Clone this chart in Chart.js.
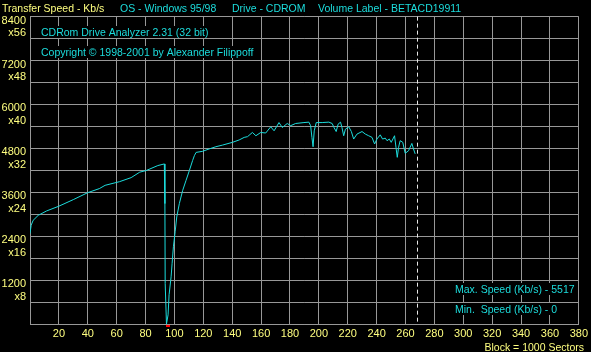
<!DOCTYPE html>
<html>
<head>
<meta charset="utf-8">
<script src="https://cdn.jsdelivr.net/npm/chart.js@4/dist/chart.umd.min.js"></script>
<style>
html,body{margin:0;padding:0;background:#000;}
#wrap{width:591px;height:352px;position:relative;}
canvas{display:block;}
</style>
</head>
<body>
<div id="wrap"><canvas id="c" width="591" height="352"></canvas></div>
<script>
// ---- data (block number in 1000-sector units, transfer speed Kb/s) ----
const blocks = [0,0.8,2.2,3.4,5.7,11.5,20,30,40,48,52,62,70,76,80.5,88.5,93,93.4,93.6,94.5,95.6,96.3,97.7,98.4,99.3,100.5,101.6,103.4,105.7,108,110.3,112.6,113.8,115,119.5,124.1,128.7,133.3,140.2,144.8,148.3,150.6,154,156.4,159.8,163.2,166.7,169,172.4,174.7,178.1,180.5,183.9,189.7,193.1,194.3,195.2,196,196.8,198.2,202.3,206.9,209.2,210.5,212,213.3,215,216,217.2,218.4,220.7,222.5,224.1,226.4,229.9,232.2,234.5,236.8,238.6,240.2,242.5,244.1,246,247.2,248.8,250.1,252.4,253.4,254.3,255.2,256.3,258.1,259.8,262.1,264.4,265.5,266.7];
const speeds = [2470,2700,2835,2880,2970,3090,3220,3400,3590,3700,3790,3890,4000,4150,4195,4330,4375,3290,1110,0,250,800,1290,1660,2110,2520,2925,3290,3650,3920,4190,4470,4600,4690,4720,4785,4845,4890,4965,5030,5100,5120,5235,5145,5235,5220,5390,5280,5505,5370,5480,5420,5480,5505,5517,5420,5100,4845,5280,5505,5505,5517,5480,5370,5260,5460,5517,5370,5145,5325,5390,5260,5055,5190,5260,5190,5145,5100,4920,5055,5170,5055,5080,5010,5055,4965,5145,4830,4555,4830,5010,4965,4665,4735,4935,4785,4650];
const yTickValues = [1200,2400,3600,4800,6000,7200,8400];
const yTickMults  = ['x8','x16','x24','x32','x40','x48','x56'];
const xTickValues = [20,40,60,80,100,120,140,160,180,200,220,240,260,280,300,320,340,360,380];
const markerBlock = 268;        // dashed end-of-disc marker
const errorRange = [94, 97];    // red error mark under the axis

const headerTexts = [
  {t:'Transfer Speed - Kb/s', x:2, y:11.5, c:'yellow'},
  {t:'OS - Windows 95/98', x:120, y:11.5, c:'cyan'},
  {t:'Drive - CDROM', x:232, y:11.5, c:'cyan'},
  {t:'Volume Label - BETACD19911', x:318, y:11.5, c:'cyan'}
];
const infoTexts = [
  {t:'CDRom Drive Analyzer 2.31 (32 bit)', x:41, y:35.5},
  {t:'Copyright \u00A9 1998-2001 by Alexander Filippoff', x:41, y:55.5},
  {t:'Max. Speed (Kb/s) - 5517', x:455, y:292.5},
  {t:'Min.  Speed (Kb/s) - 0', x:455, y:312.5}
];
const footerText = 'Block = 1000 Sectors';

const YEL = '#ffff80', CYAN = '#1cdcdc', GRID = '#989898';
const FAM = '"Liberation Sans", Arial, sans-serif';
const FONT = '10.5px ' + FAM;

const points = blocks.map((b,i)=>({x:b, y:speeds[i]}));

const decor = {
  id:'decor',
  beforeDraw(chart){
    const ctx = chart.ctx;
    ctx.save();
    ctx.fillStyle = '#000';
    ctx.fillRect(0,0,chart.width,chart.height);
    ctx.restore();
  },
  afterDraw(chart){
    const ctx = chart.ctx, xs = chart.scales.x, ys = chart.scales.y;
    ctx.save();
    const mx = Math.round(xs.getPixelForValue(markerBlock)) + 0.5;
    ctx.strokeStyle = '#e8e8e8';
    ctx.lineWidth = 1;
    ctx.setLineDash([4,3]);
    ctx.beginPath();
    ctx.moveTo(mx, chart.chartArea.top);
    ctx.lineTo(mx, chart.chartArea.bottom);
    ctx.stroke();
    ctx.setLineDash([]);
    const ex0 = xs.getPixelForValue(errorRange[0]), ex1 = xs.getPixelForValue(errorRange[1]);
    ctx.fillStyle = '#ff0000';
    ctx.fillRect(Math.round(ex0), Math.round(ys.getPixelForValue(0))+1, Math.round(ex1-ex0), 2);
    ctx.font = FONT;
    ctx.textBaseline = 'alphabetic';
    ctx.textAlign = 'left';
    headerTexts.forEach(h=>{ ctx.fillStyle = h.c==='yellow'?YEL:CYAN; ctx.fillText(h.t,h.x,h.y); });
    infoTexts.forEach(h=>{
      const w = ctx.measureText(h.t).width;
      ctx.fillStyle = '#000';
      ctx.fillRect(Math.floor(h.x)-1, Math.floor(h.y)-9, Math.ceil(w)+2, 12);
      ctx.fillStyle = CYAN;
      ctx.fillText(h.t,h.x,h.y);
    });
    ctx.fillStyle = YEL;
    ctx.textAlign = 'right';
    ctx.fillText(footerText, 584, 350.5);
    ctx.restore();
  }
};

new Chart(document.getElementById('c'), {
  type:'line',
  data:{ datasets:[{ data:points, borderColor:CYAN, borderWidth:1, pointRadius:0, tension:0, fill:false }]},
  options:{
    responsive:false, animation:false, devicePixelRatio:1,
    layout:{ padding:{ top:15, right:10, left:0, bottom:0 } },
    plugins:{ legend:{display:false}, tooltip:{enabled:false} },
    scales:{
      x:{
        type:'linear', min:0, max:380,
        afterFit(s){ s.height = 28; },
        afterBuildTicks(s){ s.ticks = [{value:0}].concat(xTickValues.map(v=>({value:v}))); },
        grid:{ color:GRID, lineWidth:1, drawTicks:false },
        border:{ color:GRID, width:1 },
        ticks:{ color:YEL, font:{family:FAM, size:11}, padding:3, autoSkip:false, maxRotation:0,
          callback(v){ return v===0 ? '' : String(v); } }
      },
      y:{
        type:'linear', min:0, max:8400,
        afterFit(s){ s.width = 30; },
        grid:{ color:GRID, lineWidth:1, drawTicks:false },
        border:{ color:GRID, width:1 },
        ticks:{ stepSize:600, color:YEL, autoSkip:false, padding:4, labelOffset:10.3,
          font:{family:FAM, size:11, lineHeight:1.15},
          callback(v){ const i = yTickValues.indexOf(v); return i<0 ? '' : [String(v), yTickMults[i]]; } }
      }
    }
  },
  plugins:[decor]
});
</script>
</body>
</html>
